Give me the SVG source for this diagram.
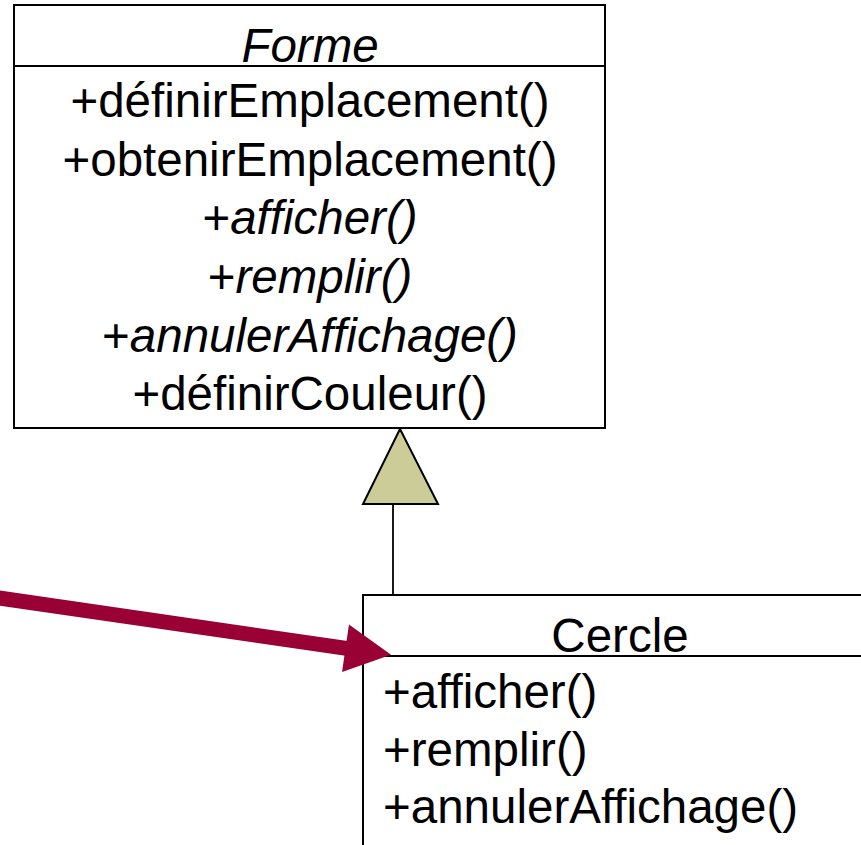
<svg xmlns="http://www.w3.org/2000/svg" width="861" height="845" viewBox="0 0 861 845">
  <style>
    .box { fill: #ffffff; stroke: #000000; stroke-width: 2; }
    .sep { stroke: #000000; stroke-width: 2; }
    .t { font-family: "Liberation Sans", Arial, sans-serif; font-size: 47.5px; fill: #000000; }
    .c { text-anchor: middle; }
    .i { font-style: italic; }
    .gen { fill: #cccc99; stroke: #000000; stroke-width: 2; stroke-linejoin: miter; }
    .link { stroke: #000000; stroke-width: 1.8; fill: none; }
    .note { stroke: #990033; stroke-width: 15; fill: none; }
  </style>
  <defs>
    <!-- filled head; the shaft ends at its base -->
    <marker id="head" markerUnits="userSpaceOnUse" markerWidth="48" markerHeight="48" refX="1" refY="24" orient="auto" overflow="visible">
      <path d="M0,0 L46,24 L0,48 Z" fill="#990033"/>
    </marker>
  </defs>

  <rect width="861" height="845" fill="#ffffff"/>

  <!-- abstract class -->
  <g id="forme">
    <rect class="box" x="14" y="5" width="591" height="423"/>
    <line class="sep" x1="14" y1="66" x2="605" y2="66"/>
    <text class="t c i" x="310" y="62">Forme</text>
    <text class="t c" x="310" y="117">+définirEmplacement()</text>
    <text class="t c" x="310" y="176">+obtenirEmplacement()</text>
    <text class="t c" x="310" y="234">+<tspan class="i">afficher()</tspan></text>
    <text class="t c" x="310" y="293">+<tspan class="i">remplir()</tspan></text>
    <text class="t c" x="310" y="352">+<tspan class="i">annulerAffichage()</tspan></text>
    <text class="t c" x="310" y="410">+définirCouleur()</text>
  </g>

  <!-- concrete subclass -->
  <g id="cercle">
    <rect class="box" x="363" y="595" width="560" height="300"/>
    <line class="sep" x1="363" y1="656" x2="923" y2="656"/>
    <text class="t c" x="620" y="652">Cercle</text>
    <text class="t" x="383" y="708">+afficher()</text>
    <text class="t" x="383" y="766">+remplir()</text>
    <text class="t" x="383" y="823">+annulerAffichage()</text>
  </g>

  <g id="connectors">
    <!-- generalization -->
    <line class="link" x1="393" y1="504" x2="393" y2="595"/>
    <polygon class="gen" points="400,429 363,504 438,504"/>
    <!-- pointer arrow -->
    <line class="note" x1="-10" y1="596.6" x2="346.5" y2="648.4" marker-end="url(#head)"/>
  </g>
</svg>
